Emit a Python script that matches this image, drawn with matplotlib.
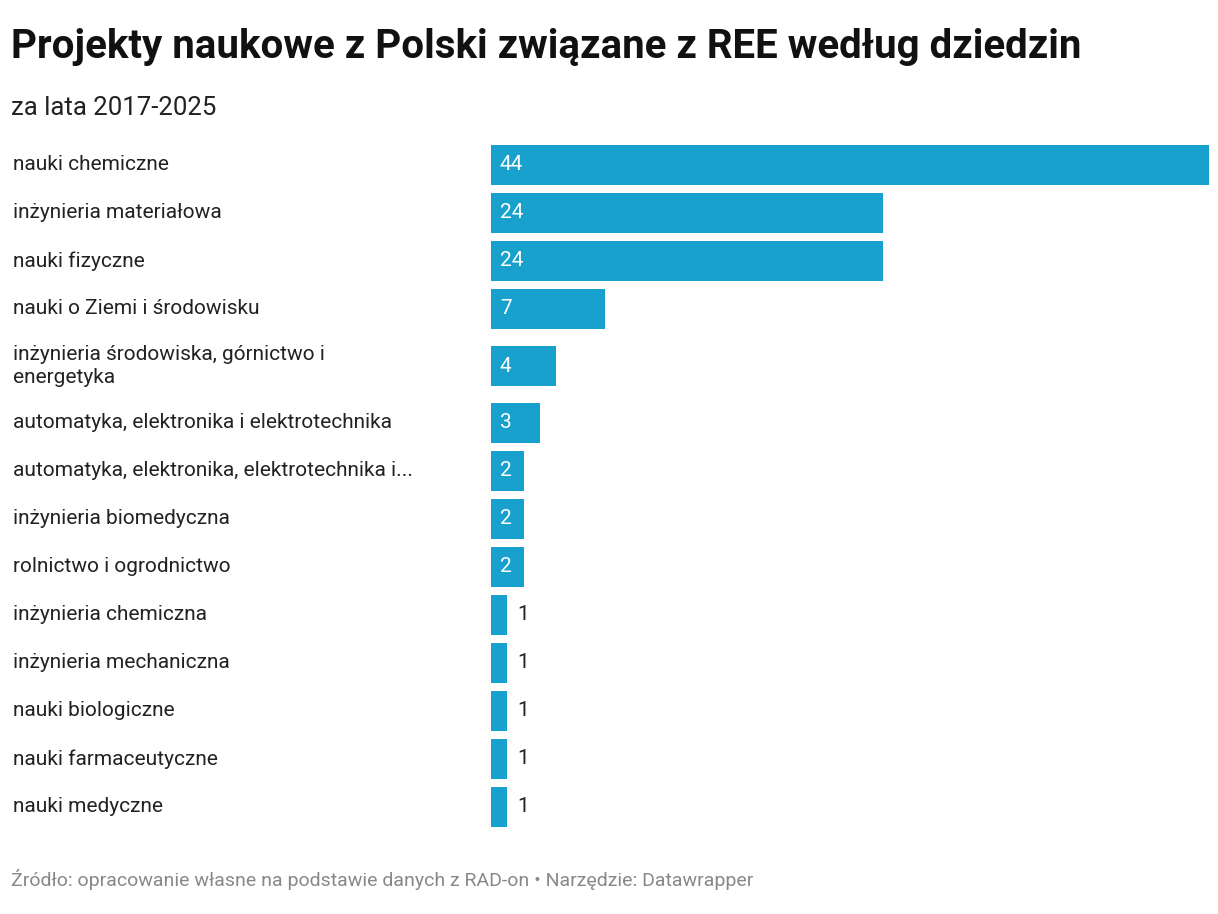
import matplotlib.pyplot as plt

plt.rcParams['font.family'] = ['Roboto', 'DejaVu Sans']

categories = ["nauki chemiczne", "inżynieria materiałowa", "nauki fizyczne",
              "nauki o Ziemi i środowisku",
              "inżynieria środowiska, górnictwo i\nenergetyka",
              "automatyka, elektronika i elektrotechnika",
              "automatyka, elektronika, elektrotechnika i...",
              "inżynieria biomedyczna", "rolnictwo i ogrodnictwo",
              "inżynieria chemiczna", "inżynieria mechaniczna",
              "nauki biologiczne", "nauki farmaceutyczne", "nauki medyczne"]
values = [44, 24, 24, 7, 4, 3, 2, 2, 2, 1, 1, 1, 1, 1]

W, H = 1218, 914
fig = plt.figure(figsize=(W / 100, H / 100), dpi=100)

# row layout in pixel coords (top-down)
centers = []
y = 141
for c in categories:
    lines = c.count("\n") + 1
    h = 48 + 18 * (lines - 1)
    centers.append(y + h / 2)
    y += h

x0, x1 = 491, 1209
ax = fig.add_axes([x0 / W, 0, (x1 - x0) / W, 1])
ax.set_xlim(0, max(values))
ax.set_ylim(H, 0)
ax.axis('off')
color = '#18a1cd'
ax.barh(centers, values, height=40, color=color)
unit = (x1 - x0) / max(values)
for c, v in zip(centers, values):
    if v * unit > 30:
        ax.text(9 / unit, c, str(v), color='white', fontsize=15, va='center', ha='left')
    else:
        ax.text(v + 10 / unit, c, str(v), color='#222222', fontsize=15, va='center', ha='left')
    pass
for c, lab in zip(centers, categories):
    fig.text(13 / W, 1 - c / H, lab, fontsize=15, va='center', ha='left',
             color='#222222', linespacing=1.25)

fig.text(11 / W, 1 - 47 / H, "Projekty naukowe z Polski związane z REE według dziedzin",
         fontsize=29, fontweight='bold', va='center', ha='left', color='#111111')
fig.text(11 / W, 1 - 108 / H, "za lata 2017-2025", fontsize=18.5, va='center', ha='left',
         color='#222222')
fig.text(11 / W, 1 - 880 / H,
         "Źródło: opracowanie własne na podstawie danych z RAD-on • Narzędzie: Datawrapper",
         fontsize=14, va='center', ha='left', color='#888888')

fig.savefig('out.png', dpi=100)
